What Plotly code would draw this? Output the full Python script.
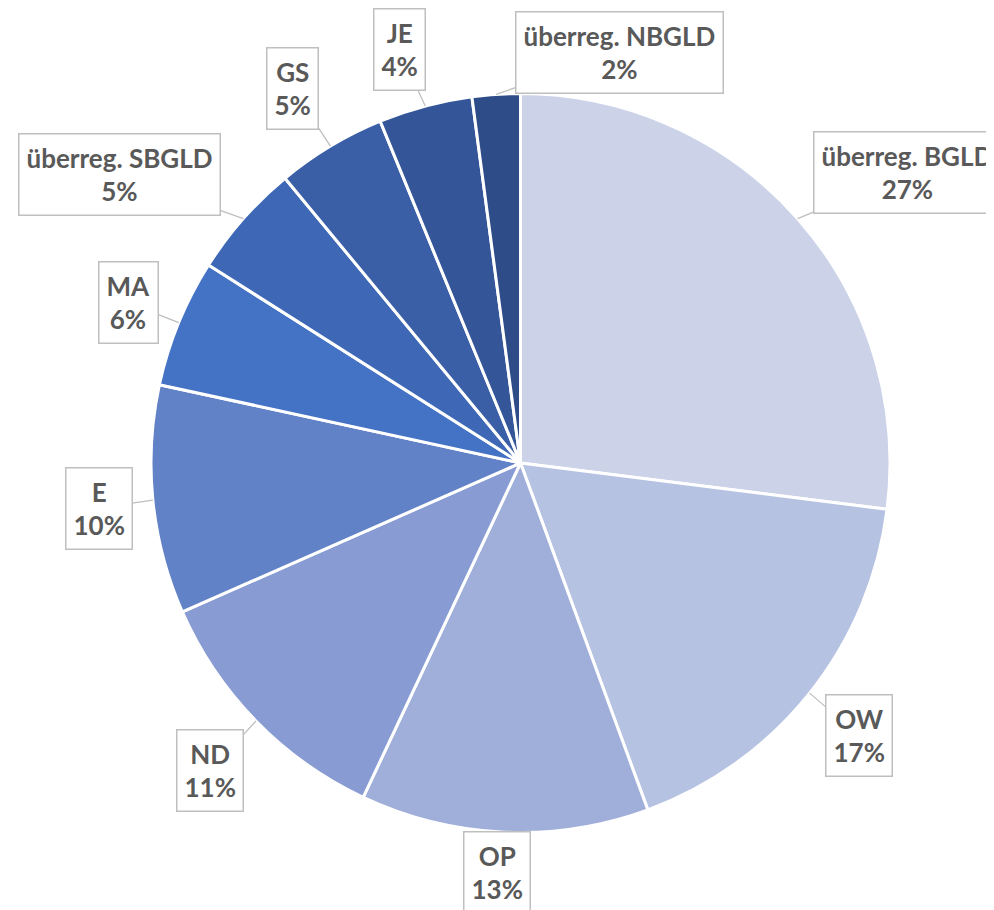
import math
import plotly.graph_objects as go

labels = ["überreg. BGLD", "OW", "OP", "ND", "E", "MA", "überreg. SBGLD", "GS", "JE", "überreg. NBGLD"]
values = [27.0, 17.4, 12.6, 11.4, 10.0, 5.6, 5.0, 4.8, 4.1, 2.1]
pct_labels = ["27%", "17%", "13%", "11%", "10%", "6%", "5%", "5%", "4%", "2%"]
colors = ["#CCD3E9", "#B6C2E2", "#A0AFDA", "#889CD3", "#6282C7", "#4472C4",
          "#3E68B5", "#3A5FA7", "#345698", "#2E4C88"]
# callout box offsets (pixels) from the slice edge
offsets = [(110, -46), (49, 42), (-7, 40), (-46, 50), (-54, 8), (-50, -20),
           (-124, -44), (-38, -58), (-26, -56), (123, -42)]

BODY = 8  # default page margin of the html body
W, H = 994 - BODY, 910 - BODY
ml, mr, mt, mb = 151 - BODY, 112 - BODY, 93 - BODY, 85 - BODY
pw, ph = W - ml - mr, H - mt - mb
R = min(pw, ph) / 2.0

fig = go.Figure(go.Pie(
    labels=labels, values=values, sort=False, direction="clockwise", rotation=0,
    marker=dict(colors=colors, line=dict(color="white", width=3)),
    textinfo="none", hoverinfo="label+percent", showlegend=False,
))

total = sum(values)
cum = 0.0
annotations = []
for lab, v, p, (dx, dy) in zip(labels, values, pct_labels, offsets):
    mid = (cum + v / 2) / total * 2 * math.pi
    cum += v
    x = 0.5 + R * math.sin(mid) / pw
    y = 0.5 + R * math.cos(mid) / ph
    annotations.append(dict(
        x=x, y=y, xref="paper", yref="paper",
        text=f"{lab}<br>{p}", showarrow=True, ax=dx, ay=dy,
        arrowhead=0, arrowwidth=1.3, arrowcolor="#BFBFBF", standoff=0,
        bordercolor="#BFBFBF", borderwidth=1.5, borderpad=7, bgcolor="white",
        font=dict(family="Lato", size=26, color="#595959", weight="bold"),
        align="center",
    ))

fig.update_layout(
    width=W, height=H, margin=dict(l=ml, r=mr, t=mt, b=mb),
    paper_bgcolor="white", plot_bgcolor="white",
    annotations=annotations,
)
fig.write_html("out.html")
